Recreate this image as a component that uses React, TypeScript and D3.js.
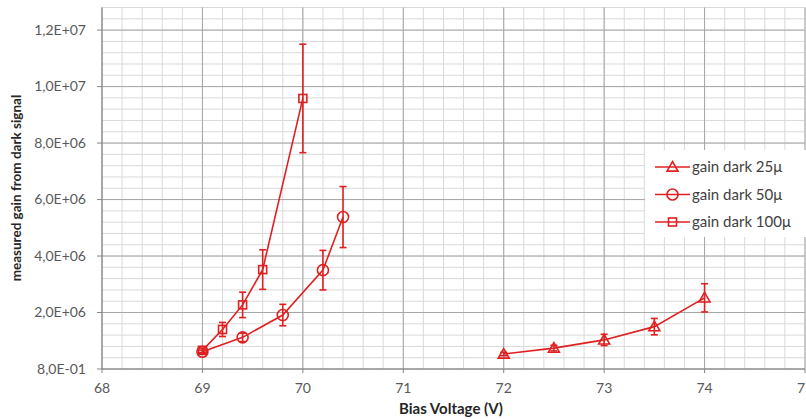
import React from 'react';
import * as d3 from 'd3';

const volt25 = [72.0, 72.5, 73.0, 73.5, 74.0];
const gain25 = [5.3e5, 7.4e5, 1.03e6, 1.5e6, 2.52e6];
const err25 = [6e4, 1e5, 2e5, 2.9e5, 5e5];

const volt50 = [69.0, 69.4, 69.8, 70.2, 70.4];
const gain50 = [6.1e5, 1.12e6, 1.91e6, 3.5e6, 5.38e6];
const err50 = [6e4, 1.5e5, 3.8e5, 7e5, 1.08e6];

const volt100 = [69.0, 69.2, 69.4, 69.6, 70.0];
const gain100 = [6.6e5, 1.4e6, 2.27e6, 3.52e6, 9.58e6];
const err100 = [8e4, 2.5e5, 4.5e5, 7e5, 1.92e6];

const seriesNames = ['gain dark 25\u03bc', 'gain dark 50\u03bc', 'gain dark 100\u03bc'];
const markerKinds = ['triangle', 'circle', 'square'];

const xTicks = [68, 69, 70, 71, 72, 73, 74, 75];
const yTicks = [0, 2e6, 4e6, 6e6, 8e6, 1e7, 1.2e7];
const yTickLabels = ['8,0E-01', '2,0E+06', '4,0E+06', '6,0E+06', '8,0E+06', '1,0E+07', '1,2E+07'];

const W = 806;
const H = 419;
const margin = { top: 7.5, right: 1, bottom: 50, left: 102 };
const RED = '#e02020';
const FONT = 'Lato, "Open Sans", sans-serif';

const x = d3.scaleLinear().domain([68, 75]).range([margin.left, W - margin.right]);
const y = d3.scaleLinear().domain([0, 1.28e7]).range([H - margin.bottom, margin.top]);

const minorX = d3.range(68, 75.001, 0.2);
const minorY = d3.range(0, 1.28e7 + 1, 4e5);

function Marker({ kind, cx, cy }: { kind: string; cx: number; cy: number }) {
  if (kind === 'circle') return <circle cx={cx} cy={cy} r={5.5} fill="none" stroke={RED} strokeWidth={1.6} />;
  if (kind === 'square') return <rect x={cx - 4} y={cy - 4} width={8} height={8} fill="none" stroke={RED} strokeWidth={1.6} />;
  const s = 5.5;
  return (
    <path
      d={`M${cx},${cy - s} L${cx + s},${cy + s * 0.75} L${cx - s},${cy + s * 0.75} Z`}
      fill="none"
      stroke={RED}
      strokeWidth={1.6}
    />
  );
}

export default function App() {
  const series = [
    { xs: volt25, ys: gain25, es: err25 },
    { xs: volt50, ys: gain50, es: err50 },
    { xs: volt100, ys: gain100, es: err100 },
  ];
  const y0 = y(0);

  return (
    <svg width={W} height={H} style={{ position: 'absolute', left: 0, top: 0, background: '#fff' }}>
      {/* grid */}
      {minorY.map((v, i) => (
        <line key={'my' + i} x1={x(68)} x2={x(75)} y1={y(v)} y2={y(v)} stroke="#d9d9d9" strokeWidth={1} />
      ))}
      {minorX.map((v, i) => (
        <line key={'mx' + i} x1={x(v)} x2={x(v)} y1={y(1.28e7)} y2={y0} stroke="#d9d9d9" strokeWidth={1} />
      ))}
      {yTicks.map((v, i) => (
        <line key={'gy' + i} x1={x(68)} x2={x(75)} y1={y(v)} y2={y(v)} stroke="#a6a6a6" strokeWidth={1} />
      ))}
      {xTicks.map((v, i) => (
        <line key={'gx' + i} x1={x(v)} x2={x(v)} y1={y(1.28e7)} y2={y0} stroke="#a6a6a6" strokeWidth={1} />
      ))}

      {/* axes */}
      <line x1={x(68)} x2={x(68)} y1={y(1.28e7)} y2={y0} stroke="#868686" />
      <line x1={x(68)} x2={x(75)} y1={y0} y2={y0} stroke="#868686" />
      {yTicks.map((v, i) => (
        <g key={'yt' + i}>
          <line x1={x(68) - 5} x2={x(68)} y1={y(v)} y2={y(v)} stroke="#868686" />
          <text x={x(68) - 16} y={y(v)} dy="0.35em" textAnchor="end" fontSize={14} fill="#595959" fontFamily={FONT}>
            {yTickLabels[i]}
          </text>
        </g>
      ))}
      {xTicks.map((v, i) => (
        <g key={'xt' + i}>
          <line x1={x(v)} x2={x(v)} y1={y0} y2={y0 + 4} stroke="#868686" />
          <text x={x(v)} y={393} textAnchor="middle" fontSize={14} fill="#595959" fontFamily={FONT}>
            {v}
          </text>
        </g>
      ))}

      <text x={451} y={414} textAnchor="middle" fontSize={15} fontWeight="bold" fill="#262626" fontFamily={FONT}>
        Bias Voltage (V)
      </text>
      <text
        transform={`translate(21,188) rotate(-90)`}
        textAnchor="middle"
        fontSize={13.5}
        fontWeight="bold"
        fill="#262626"
        fontFamily={FONT}
      >
        measured gain from dark signal
      </text>

      {/* series */}
      {series.map((s, k) => {
        const path = d3
          .line<number>()
          .x((d) => x(d))
          .y((_, i) => y(s.ys[i]))(s.xs);
        return (
          <g key={'s' + k}>
            <path d={path || ''} fill="none" stroke={RED} strokeWidth={1.6} />
            {s.xs.map((v, i) => {
              const cx = x(v);
              const top = y(s.ys[i] + s.es[i]);
              const bot = y(s.ys[i] - s.es[i]);
              return (
                <g key={i}>
                  <line x1={cx} x2={cx} y1={top} y2={bot} stroke={RED} strokeWidth={1.6} />
                  <line x1={cx - 3.5} x2={cx + 3.5} y1={top} y2={top} stroke={RED} strokeWidth={1.6} />
                  <line x1={cx - 3.5} x2={cx + 3.5} y1={bot} y2={bot} stroke={RED} strokeWidth={1.6} />
                  <Marker kind={markerKinds[k]} cx={cx} cy={y(s.ys[i])} />
                </g>
              );
            })}
          </g>
        );
      })}

      {/* legend */}
      <rect x={645} y={150} width={161} height={87} fill="#fff" />
      {seriesNames.map((name, i) => {
        const ly = 167 + i * 27.5;
        return (
          <g key={'lg' + i}>
            <line x1={655} x2={690} y1={ly} y2={ly} stroke={RED} strokeWidth={1.6} />
            <Marker kind={markerKinds[i]} cx={672.5} cy={ly} />
            <text x={692} y={ly} dy="0.35em" fontSize={15} fill="#404040" fontFamily={FONT}>
              {name}
            </text>
          </g>
        );
      })}
    </svg>
  );
}
